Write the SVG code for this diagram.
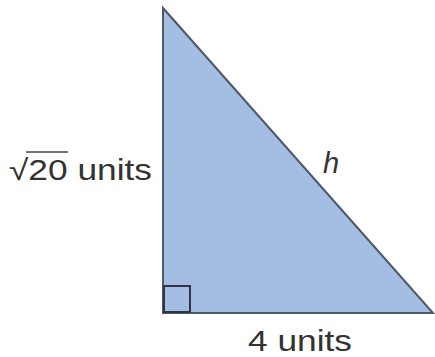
<svg xmlns="http://www.w3.org/2000/svg" width="435" height="357" viewBox="0 0 435 357">
<style>
.lbl{font-family:"Liberation Sans",Arial,sans-serif;font-size:29px;fill:#333}
</style>
<rect width="435" height="357" fill="#fff"/>
<g id="triangle">
<polygon points="163,8 163,313 433,313" fill="#a3bde3" stroke="#505868" stroke-width="2" stroke-linejoin="miter"/>
<rect x="164" y="286" width="26" height="26" fill="none" stroke="#2f3444" stroke-width="2"/>
</g>
<g id="labels">
<text class="lbl" x="9" y="180" textLength="143" lengthAdjust="spacingAndGlyphs">√20 units</text>
<line x1="26" y1="152" x2="68" y2="152" stroke="#444" stroke-width="1.5"/>
<text class="lbl" x="248" y="351" textLength="104" lengthAdjust="spacingAndGlyphs">4 units</text>
<text class="lbl" x="323" y="173" font-style="italic" font-size="30">h</text>
</g>
</svg>
